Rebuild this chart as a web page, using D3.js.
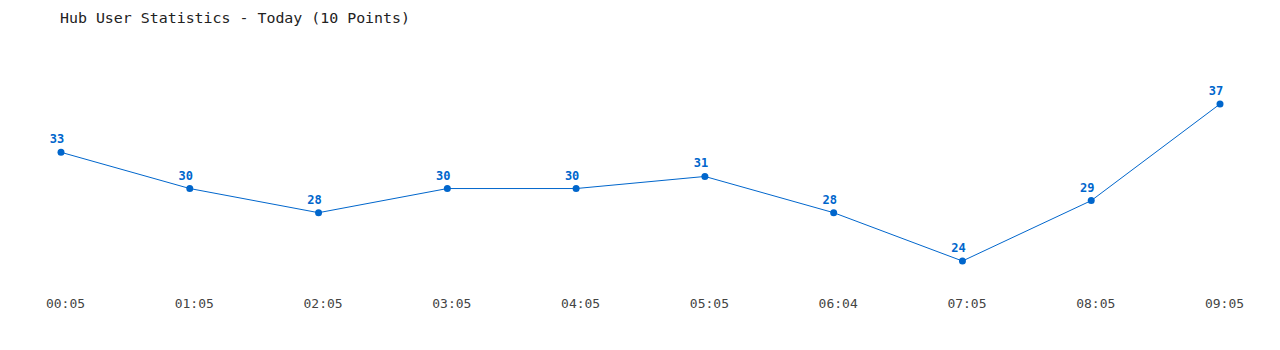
<!DOCTYPE html>
<html lang="en">
<head>
    <meta charset="UTF-8">
    <title>Hub User Statistics</title>
    <script src="https://cdn.jsdelivr.net/npm/d3@7/dist/d3.min.js"></script>
    <style>
        body { margin: 0; background: #fff; }
        text { font-family: "DejaVu Sans Mono", "Liberation Mono", monospace; }
    </style>
</head>
<body>
<script>
    // Daten
    let times = ["00:05", "01:05", "02:05", "03:05", "04:05", "05:05", "06:04", "07:05", "08:05", "09:05"];
    let users = [33, 30, 28, 30, 30, 31, 28, 24, 29, 37];

    let w = 1280, h = 350;
    let color = "#0066cc";

    let svg = d3.select("body").append("svg")
        .attr("width", w)
        .attr("height", h);

    // Titel
    svg.append("text")
        .attr("x", 60)
        .attr("y", 23)
        .attr("font-size", "13.5px")
        .attr("textLength", 350)
        .attr("lengthAdjust", "spacingAndGlyphs")
        .attr("fill", "#222")
        .text("Hub User Statistics - Today (10 Points)");

    let x = d3.scalePoint()
        .domain(times)
        .range([61, 1220]);

    let y = d3.scaleLinear()
        .domain([24, 37])
        .range([261, 104]);

    // x-Achse (nur Beschriftung)
    let xAxis = svg.append("g")
        .attr("transform", "translate(4,0)")
        .call(d3.axisBottom(x).tickSize(0).tickPadding(0));
    xAxis.select(".domain").remove();
    xAxis.selectAll("text")
        .attr("y", 308)
        .attr("dy", null)
        .attr("font-size", "13px")
        .attr("font-family", "\"DejaVu Sans Mono\", monospace")
        .attr("fill", "#444");

    let data = times.map((t, i) => ({t: t, v: users[i]}));

    // Linie
    svg.append("path")
        .datum(data)
        .attr("fill", "none")
        .attr("stroke", color)
        .attr("stroke-width", 1)
        .attr("d", d3.line().x(d => x(d.t)).y(d => y(d.v)));

    // Punkte
    svg.selectAll("circle")
        .data(data)
        .enter()
        .append("circle")
        .attr("cx", d => x(d.t))
        .attr("cy", d => y(d.v))
        .attr("r", 3.5)
        .attr("fill", color);

    // Wertbeschriftung
    svg.selectAll(".val")
        .data(data)
        .enter()
        .append("text")
        .attr("class", "val")
        .attr("x", d => x(d.t) - 4)
        .attr("y", d => y(d.v) - 9)
        .attr("text-anchor", "middle")
        .attr("font-size", "12px")
        .attr("font-weight", "bold")
        .attr("fill", color)
        .text(d => d.v);
</script>
</body>
</html>
